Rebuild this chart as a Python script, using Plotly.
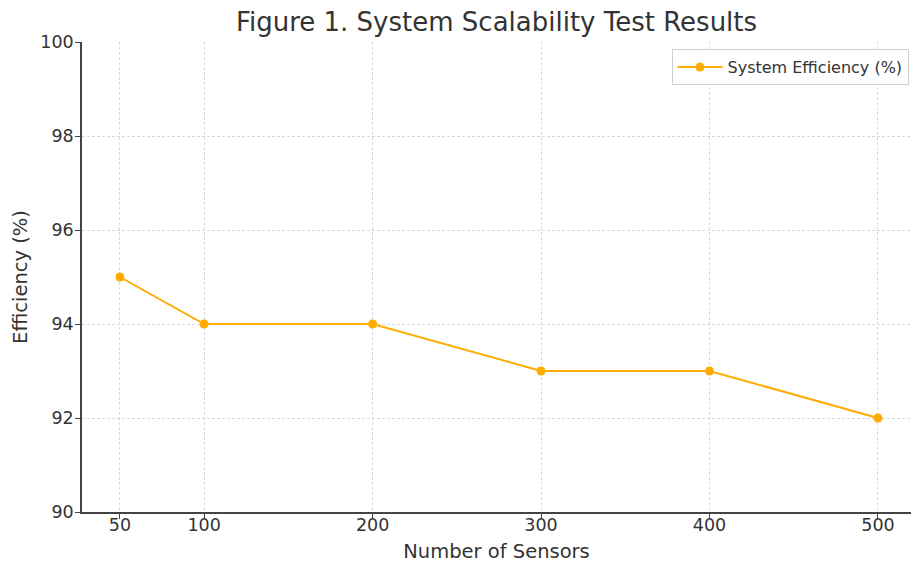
import plotly.graph_objects as go

sensors = [50, 100, 200, 300, 400, 500]
efficiency = [95, 94, 94, 93, 93, 92]
x_ticks = [50, 100, 200, 300, 400, 500]
y_ticks = [90, 92, 94, 96, 98, 100]

FONT = "DejaVu Sans"
TXT = "#333333"
ORANGE = "#FFAC00"

fig = go.Figure()
fig.add_trace(go.Scatter(
    x=sensors, y=efficiency, mode="lines+markers",
    name="System Efficiency (%)",
    line=dict(color=ORANGE, width=2),
    marker=dict(color=ORANGE, size=9),
))

fig.update_layout(
    width=911, height=563,
    margin=dict(l=82, r=0, t=42, b=51),
    paper_bgcolor="white", plot_bgcolor="white",
    font=dict(family=FONT, color=TXT),
    title=dict(text="Figure 1. System Scalability Test Results",
               xref="paper", x=0.5, xanchor="center",
               yref="container", y=0.961, yanchor="middle",
               font=dict(size=26, color=TXT)),
    showlegend=True,
    legend=dict(x=0.997, xanchor="right", y=0.985, yanchor="top",
                bgcolor="white", bordercolor="#d0d0d0", borderwidth=1,
                itemwidth=45,
                font=dict(size=16, color=TXT)),
)
fig.update_xaxes(
    range=[27.5, 519.6], tickvals=x_ticks, ticks="outside", ticklen=5,
    tickcolor="#444", showline=True, linecolor="#444", linewidth=1.5,
    showgrid=True, gridcolor="#d9d9d9", griddash="3px,2px", gridwidth=1,
    zeroline=False, tickfont=dict(size=17.5, color=TXT), ticklabelstandoff=-9,
    title=dict(text="Number of Sensors", font=dict(size=19.5, color=TXT), standoff=14),
)
fig.update_yaxes(
    range=[90, 100], tickvals=y_ticks, ticks="outside", ticklen=5,
    tickcolor="#444", showline=True, linecolor="#444", linewidth=1.5,
    showgrid=True, gridcolor="#d9d9d9", griddash="3px,2px", gridwidth=1,
    zeroline=False, tickfont=dict(size=17.5, color=TXT), ticklabelstandoff=-2,
    title=dict(text="Efficiency (%)", font=dict(size=19.5, color=TXT), standoff=8),
)

fig.write_html("out.html", config={"displayModeBar": False},
               post_script="document.body.style.margin='0';")
